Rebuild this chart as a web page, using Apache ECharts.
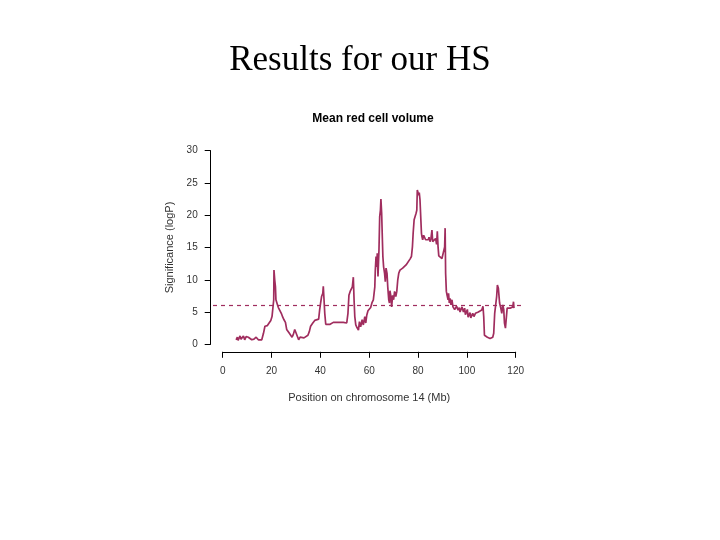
<!DOCTYPE html>
<html>
<head>
<meta charset="utf-8">
<script src="https://cdn.jsdelivr.net/npm/echarts@6/dist/echarts.min.js"></script>
<style>html,body{margin:0;padding:0;background:#fff}#c{width:720px;height:540px}</style>
</head>
<body>
<div id="c"></div>
<script>
const pageTitle = "Results for our HS";
const chartTitle = "Mean red cell volume";
const xAxisName = "Position on chromosome 14 (Mb)";
const yAxisName = "Significance (logP)";
const xTicks = [0, 20, 40, 60, 80, 100, 120];
const yTicks = [0, 5, 10, 15, 20, 25, 30];
const threshold = 6;

const positions = [5.5,6.0,6.3,6.6,7.1,7.5,7.8,8.5,8.8,9.0,9.6,10.0,10.5,11.2,11.9,12.8,13.7,14.2,14.6,16.0,16.7,17.3,18.3,19.1,19.7,20.2,20.6,20.9,21.0,21.3,21.6,21.8,22.3,22.8,23.5,24.0,24.6,25.1,25.7,26.2,26.8,27.3,27.8,28.4,28.9,29.5,30.0,30.6,31.1,31.7,32.5,33.3,34.1,34.9,35.5,36.0,36.9,37.7,38.5,39.3,39.7,40.1,40.5,41.0,41.2,41.5,41.8,42.2,42.9,44.0,45.3,47.4,49.4,50.8,51.3,51.7,52.2,52.7,53.1,53.5,53.8,54.1,54.5,55.0,55.6,56.0,56.5,57.1,57.6,58.2,58.6,59.0,59.5,60.1,60.6,61.2,61.7,62.3,62.5,62.8,63.1,63.3,63.6,64.0,64.3,64.6,64.8,65.1,65.4,65.6,65.9,66.3,66.6,66.9,67.3,67.6,68.0,68.3,68.5,68.9,69.2,69.6,70.0,70.4,70.9,71.3,71.7,72.1,72.6,73.2,73.7,74.3,75.1,75.9,76.7,77.3,77.7,78.0,78.4,78.8,79.2,79.5,79.7,80.0,80.3,80.5,80.8,81.1,81.4,81.6,81.9,82.3,82.8,83.1,83.5,84.2,84.5,84.9,85.3,85.7,86.0,86.4,86.8,87.2,87.6,87.9,88.2,88.5,89.0,89.8,90.6,90.9,91.1,91.3,91.6,91.9,92.3,92.5,92.8,93.1,93.5,93.9,94.3,94.7,95.0,95.3,95.8,96.1,96.4,96.9,97.2,97.5,98.0,98.3,98.6,99.1,99.4,99.7,100.2,100.5,100.8,101.3,101.6,101.8,102.4,102.9,103.2,103.5,104.0,104.7,105.4,106.1,106.6,106.9,107.2,107.8,108.4,108.9,109.5,110.0,110.6,111.0,111.4,111.8,112.2,112.5,112.9,113.2,113.4,113.9,114.3,114.7,115.1,115.4,115.8,116.2,116.5,117.0,117.7,118.4,118.8,119.1,119.3];
const significance = [0.7,1.1,0.6,0.8,1.3,0.8,0.9,1.3,1.0,0.7,1.2,0.9,1.1,1.0,0.7,0.8,1.1,1.4,0.7,0.7,1.7,2.8,2.9,3.2,3.7,4.3,5.8,6.9,11.5,10.0,8.9,6.9,6.3,5.7,5.4,4.8,4.2,3.8,3.4,2.3,2.4,1.7,1.4,1.1,1.5,2.3,2.2,1.2,0.7,1.1,0.9,1.0,0.9,1.4,2.0,2.8,3.3,3.7,3.8,3.9,5.3,6.4,7.4,7.9,9.0,6.9,4.8,3.1,2.9,3.1,3.4,3.4,3.4,3.3,4.8,7.6,8.2,7.9,8.9,10.4,6.9,4.3,3.0,2.6,2.2,3.5,2.7,3.8,3.0,4.3,3.3,4.5,5.2,5.4,5.7,6.5,6.9,8.9,11.5,13.6,12.0,14.1,10.5,14.6,19.8,20.8,22.5,20.3,16.2,13.6,12.0,11.0,9.7,11.8,11.0,8.9,6.9,6.4,8.3,7.4,5.8,7.6,6.9,8.2,7.4,8.2,10.0,11.0,11.5,11.5,11.8,12.0,12.3,12.6,13.2,13.6,15.1,17.2,19.3,19.5,20.3,20.8,23.9,23.6,23.1,23.5,22.4,22.4,17.2,16.7,16.2,16.9,16.7,16.2,16.4,16.2,16.6,15.9,16.4,17.7,15.9,16.2,15.9,16.4,15.5,17.5,15.1,13.7,13.5,13.3,13.3,15.1,18.0,11.0,8.2,7.6,6.9,7.9,6.4,7.1,6.1,6.9,5.8,6.1,5.4,5.6,5.9,6.2,5.3,5.7,5.0,5.2,5.8,6.0,5.0,5.6,4.6,4.8,5.4,4.2,4.4,4.9,4.1,4.2,4.8,4.3,4.6,4.8,4.5,5.0,4.8,5.3,5.9,4.3,1.4,1.3,1.1,0.8,0.9,0.7,1.1,1.7,4.8,6.1,7.4,9.2,8.7,8.9,6.4,5.6,4.8,6.1,5.4,3.3,2.5,2.3,5.6,5.4,5.6,5.3,5.8,6.6,5.6];

const lineColor = '#a02d5e';
const textColor = '#333333';
const chart = echarts.init(document.getElementById('c'), null, {renderer: 'canvas'});
const seriesData = positions.map((x, i) => [x, significance[i]]);

chart.setOption({
  backgroundColor: '#ffffff',
  animation: false,
  title: [
    {text: pageTitle, left: 'center', top: 38,
     textStyle: {fontFamily: 'Liberation Serif', fontWeight: 'normal', fontSize: 35, color: '#000'}},
    {text: chartTitle, left: 368, top: 108, textAlign: 'center',
     textStyle: {fontFamily: 'Liberation Sans', fontWeight: 'bold', fontSize: 12, color: '#000'}}
  ],
  grid: [
    {left: 222.7, right: 204.3, top: 150.7, bottom: 195.7, containLabel: false},
    {left: 213, right: 198, top: 150.7, bottom: 195.7, containLabel: false}
  ],
  xAxis: [
    {gridIndex: 0, type: 'value', min: xTicks[0], max: xTicks[xTicks.length - 1],
     interval: xTicks[1] - xTicks[0], offset: 7.5,
     name: xAxisName, nameLocation: 'middle', nameGap: 41,
     nameTextStyle: {fontFamily: 'Liberation Sans', fontSize: 11, color: textColor},
     axisLine: {show: true, onZero: false, lineStyle: {color: '#000', width: 1}},
     axisTick: {show: true, inside: false, length: 6, lineStyle: {color: '#000'}},
     axisLabel: {margin: 14, fontFamily: 'Liberation Sans', fontSize: 10, color: textColor},
     splitLine: {show: false}},
    {gridIndex: 1, type: 'value', min: 0, max: 1, show: false}
  ],
  yAxis: [
    {gridIndex: 0, type: 'value', min: yTicks[0], max: yTicks[yTicks.length - 1],
     interval: yTicks[1] - yTicks[0], offset: 12,
     name: yAxisName, nameLocation: 'middle', nameGap: 35, nameRotate: 90,
     nameTextStyle: {fontFamily: 'Liberation Sans', fontSize: 11, color: textColor},
     axisLine: {show: true, onZero: false, lineStyle: {color: '#000', width: 1}},
     axisTick: {show: true, inside: false, length: 6, lineStyle: {color: '#000'}},
     axisLabel: {margin: 13, fontFamily: 'Liberation Sans', fontSize: 10, color: textColor},
     splitLine: {show: false}},
    {gridIndex: 1, type: 'value', min: yTicks[0], max: yTicks[yTicks.length - 1], show: false}
  ],
  series: [
    {type: 'line', xAxisIndex: 0, yAxisIndex: 0, data: seriesData,
     showSymbol: false, symbol: 'none', smooth: false,
     lineStyle: {color: lineColor, width: 1.7}},
    {type: 'line', xAxisIndex: 1, yAxisIndex: 1, data: [],
     symbol: 'none',
     markLine: {silent: true, symbol: ['none', 'none'], label: {show: false},
       lineStyle: {color: lineColor, type: [4, 4], width: 1.2},
       data: [{yAxis: threshold}]}}
  ]
});
</script>
</body>
</html>
